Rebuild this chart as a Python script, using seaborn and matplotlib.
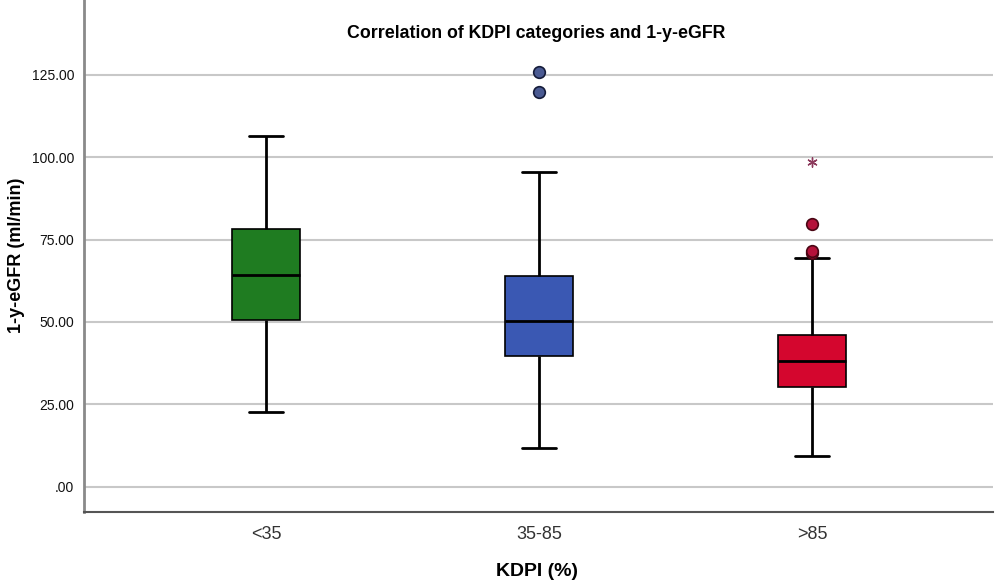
#!/usr/bin/env python3
"""
Box plot: KDPI categories vs 1-year eGFR (SPSS look)
"""

import numpy as np
import pandas as pd
import matplotlib
matplotlib.use('Agg')
import matplotlib.pyplot as plt
from matplotlib.ticker import FuncFormatter
import seaborn as sns

# Data (ml/min)
categories = ['<35', '35-85', '>85']
whisker_low = [22.7, 11.8, 9.4]
q1 = [50.5, 39.7, 30.3]
median = [64.2, 50.3, 38.2]
q3 = [78.2, 63.9, 46.0]
whisker_high = [106.4, 95.5, 69.4]
outliers = [[], [119.7, 125.8], [70.9, 71.5, 79.7]]
extremes = [[], [], [98.5]]

box_colors = ['#1f7c21', '#3a58b3', '#d4062e']
flier_face = ['#1f7c21', '#4a5a92', '#b4123a']
flier_edge = ['#0c300c', '#151c3a', '#4a0614']
star_color = '#8c3a5c'


def build_group(lo, a, m, b, hi, above):
    # sorted sample whose 25/50/75 percentiles land exactly on a, m, b
    k = len(above) + 1
    low = [lo] * k
    top = [hi] * (k - len(above)) + list(above)
    return low + [a] * k + [m] * k + [b] + top


rows = []
for i, cat in enumerate(categories):
    vals = build_group(whisker_low[i], q1[i], median[i], q3[i],
                       whisker_high[i], outliers[i] + extremes[i])
    rows += [(cat, v) for v in vals]
df = pd.DataFrame(rows, columns=['KDPI', 'eGFR'])

sns.set_style("white")
plt.rcParams['font.family'] = ['Liberation Sans', 'DejaVu Sans']

fig = plt.figure(figsize=(9.98, 5.81), dpi=100)
ax = fig.add_axes([84 / 998, 1 - 512 / 581, 909 / 998, 512 / 581])

sns.boxplot(data=df, x='KDPI', y='eGFR', hue='KDPI', order=categories,
            hue_order=categories, palette=box_colors, saturation=1,
            legend=False, width=0.25, showfliers=False, linecolor='black',
            linewidth=1.2, whiskerprops=dict(linewidth=2),
            capprops=dict(linewidth=2), medianprops=dict(linewidth=2),
            capwidths=0.125, ax=ax)

# outliers (circles) and extremes (stars)
for i, cat in enumerate(categories):
    if outliers[i]:
        ax.scatter([i] * len(outliers[i]), outliers[i], s=70,
                   facecolor=flier_face[i], edgecolor=flier_edge[i],
                   linewidth=1.2, zorder=4)
    if extremes[i]:
        ax.scatter([i] * len(extremes[i]), extremes[i], s=45,
                   marker=(6, 2, 0), color=star_color, linewidth=1.0,
                   zorder=4)

ax.set_xlim(-0.667, 2.663)
ax.set_ylim(-7.6, 147.6)
ax.set_yticks([0, 25, 50, 75, 100, 125])
ax.yaxis.set_major_formatter(
    FuncFormatter(lambda v, p: '.00' if v == 0 else f'{v:.2f}'))
ax.grid(axis='y', color='#c8c8c8', linewidth=1.5, zorder=0)
ax.set_axisbelow(True)

ax.tick_params(axis='y', direction='in', length=3, width=1, color='#9a9a9a',
               pad=7, labelsize=10, labelcolor='#111111')
ax.tick_params(axis='x', length=0, pad=10, labelsize=13, labelcolor='#333333')

for side in ['top', 'right']:
    ax.spines[side].set_visible(False)
ax.spines['left'].set_color('#8a8a8a')
ax.spines['left'].set_linewidth(2)
ax.spines['bottom'].set_color('#555555')
ax.spines['bottom'].set_linewidth(1.5)

ax.set_xlabel('')
ax.set_ylabel('')
fig.text(537 / 998, 1 - 572 / 581, 'KDPI (%)', ha='center', va='center',
         fontsize=14, fontweight='bold', color='black')
fig.text(17 / 998, 1 - 255 / 581, '1-y-eGFR (ml/min)', ha='center',
         va='center', rotation=90, fontsize=13, fontweight='bold',
         color='black')
fig.text(536 / 998, 1 - 34 / 581,
         'Correlation of KDPI categories and 1-y-eGFR', ha='center',
         va='center', fontsize=12.8, fontweight='bold', color='black')

fig.savefig('out.png', dpi=100)
plt.close(fig)
